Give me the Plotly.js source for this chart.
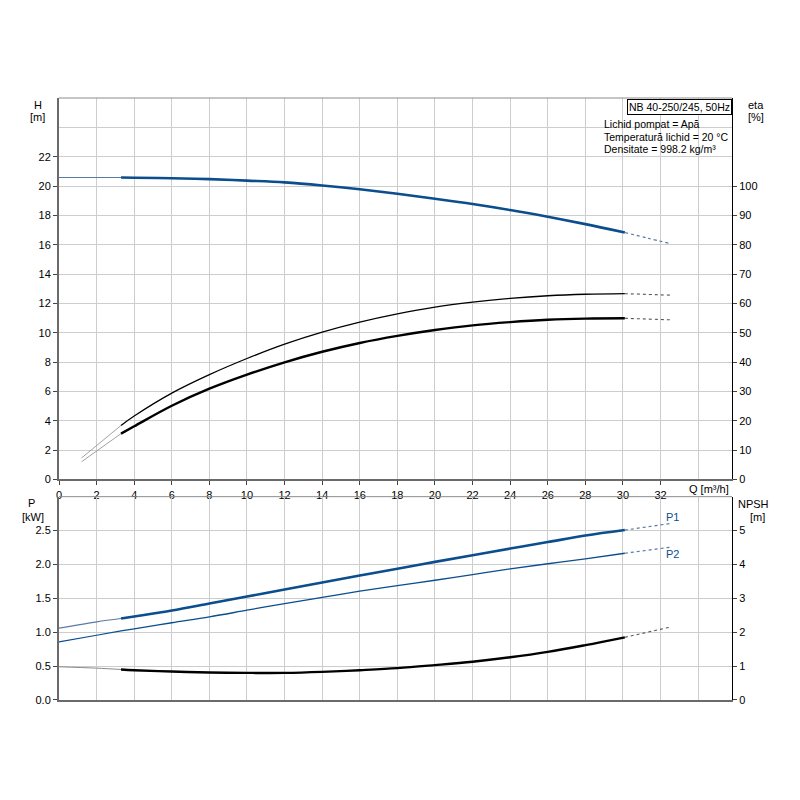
<!DOCTYPE html>
<html>
<head>
<meta charset="utf-8">
<script src="https://cdn.plot.ly/plotly-3.0.1.min.js"></script>
<style>
  html, body { margin: 0; padding: 0; background: #fff; }
  #chart { width: 800px; height: 800px; }
</style>
</head>
<body>
<div id="chart"></div>
<script>
// flow points of the solid (operating) part of every curve
const qMain = [3.3, 4, 6, 8, 10, 12, 14, 16, 18, 20, 22, 24, 26, 28, 30.1];

// head H [m]
const qStartH = [0, 3.3];
const hStart = [20.58, 20.58];
const hMain = [20.58, 20.56, 20.53, 20.47, 20.37, 20.25, 20.04, 19.78, 19.47, 19.13, 18.77, 18.36, 17.9, 17.4, 16.83];
const qEndH = [30.1, 31.3, 32.5];
const hEnd = [16.83, 16.45, 16.08];

// efficiency eta [%]
const qStartEta = [1.2, 3.3];
const eta1Start = [7.3, 18.4];
const eta1Main = [18.4, 21.6, 29.4, 35.7, 41.2, 46.1, 50.2, 53.6, 56.4, 58.7, 60.4, 61.7, 62.6, 63.1, 63.3];
const eta2Start = [6.0, 15.6];
const eta2Main = [15.6, 18.1, 25.1, 30.9, 35.7, 39.9, 43.5, 46.5, 48.9, 50.9, 52.5, 53.6, 54.4, 54.8, 54.9];
const qEnd = [30.1, 32.5];
const eta1End = [63.3, 62.8];
const eta2End = [54.9, 54.4];

// power P1, P2 [kW]
const qStartP = [0, 2, 3.3];
const p1Start = [1.059, 1.153, 1.202];
const p1Main = [1.202, 1.232, 1.32, 1.423, 1.527, 1.63, 1.733, 1.836, 1.937, 2.038, 2.136, 2.234, 2.33, 2.426, 2.507];
const p1End = [2.507, 2.603];
const p2Start = [0.858, 0.955, 1.02];
const p2Main = [1.02, 1.05, 1.14, 1.227, 1.325, 1.423, 1.515, 1.605, 1.688, 1.767, 1.851, 1.935, 2.01, 2.083, 2.165];
const p2End = [2.165, 2.254];

// NPSH [m]
const npshStart = [0.98, 0.94, 0.90];
const npshMain = [0.90, 0.88, 0.84, 0.81, 0.80, 0.80, 0.83, 0.88, 0.94, 1.03, 1.13, 1.26, 1.42, 1.62, 1.85];
const npshEnd = [1.85, 2.15];

// tick labels
const qTicks = [0, 2, 4, 6, 8, 10, 12, 14, 16, 18, 20, 22, 24, 26, 28, 30, 32];
const hTicks = [0, 2, 4, 6, 8, 10, 12, 14, 16, 18, 20, 22];
const etaTicks = [0, 10, 20, 30, 40, 50, 60, 70, 80, 90, 100];
const pTicks = [0, 0.5, 1, 1.5, 2, 2.5];
const npshTicks = [0, 1, 2, 3, 4, 5];

const BLUE = '#0b4d8d';
const BLUE_LIGHT = '#5b7aa3';
const GREY = '#8a8a8a';
const GRID = '#cdcdcd';
const FONT = 'Liberation Sans, Arial, sans-serif';

function seg(x, y, xa, ya, color, width, dash) {
  return {
    x: x, y: y, xaxis: xa, yaxis: ya, type: 'scatter', mode: 'lines',
    line: { color: color, width: width, dash: dash || 'solid', shape: 'spline', smoothing: 1 },
    hoverinfo: 'skip', showlegend: false
  };
}

const traces = [
  // H
  seg(qStartH, hStart, 'x', 'y', BLUE_LIGHT, 1),
  seg(qMain, hMain, 'x', 'y', BLUE, 2.6),
  seg(qEndH, hEnd, 'x', 'y', BLUE_LIGHT, 1.2, 'dot'),
  // eta
  seg(qStartEta, eta1Start, 'x', 'y2', GREY, 0.8),
  seg(qMain, eta1Main, 'x', 'y2', '#000', 1.3),
  seg(qEnd, eta1End, 'x', 'y2', '#555', 1.1, 'dot'),
  seg(qStartEta, eta2Start, 'x', 'y2', GREY, 0.8),
  seg(qMain, eta2Main, 'x', 'y2', '#000', 2.4),
  seg(qEnd, eta2End, 'x', 'y2', '#555', 1.1, 'dot'),
  // P1 / P2
  seg(qStartP, p1Start, 'x2', 'y3', BLUE_LIGHT, 1.2),
  seg(qMain, p1Main, 'x2', 'y3', BLUE, 2.6),
  seg(qEnd, p1End, 'x2', 'y3', BLUE_LIGHT, 1.2, 'dot'),
  seg(qStartP, p2Start, 'x2', 'y3', BLUE, 1.2),
  seg(qMain, p2Main, 'x2', 'y3', BLUE, 1.3),
  seg(qEnd, p2End, 'x2', 'y3', BLUE_LIGHT, 1.2, 'dot'),
  // NPSH
  seg(qStartP, npshStart, 'x2', 'y4', GREY, 1),
  seg(qMain, npshMain, 'x2', 'y4', '#000', 2.4),
  seg(qEnd, npshEnd, 'x2', 'y4', '#555', 1.1, 'dot')
];

// plot area in pixels: x 59..731.7, y 98..700.5
const L = 59, R = 731.7, T = 98, B = 700.5;
function px(x) { return (x - L) / (R - L); }
function py(y) { return (B - y) / (B - T); }
const topDom = [py(479.7), 1];
const botDom = [0, py(497)];

const tickFont = { family: FONT, size: 11, color: '#000' };

function label(text, x, y, xanchor, color, size) {
  return {
    text: text, x: px(x), y: py(y), xref: 'paper', yref: 'paper',
    xanchor: xanchor || 'center', yanchor: 'middle', showarrow: false,
    font: { family: FONT, size: size || 11, color: color || '#000' }
  };
}

const layout = {
  width: 800, height: 800,
  margin: { l: L, r: 800 - R, t: T, b: 800 - B },
  paper_bgcolor: '#fff', plot_bgcolor: '#fff',
  showlegend: false,
  xaxis: {
    anchor: 'y', range: [0, 35.8], tickvals: qTicks,
    showgrid: true, gridcolor: GRID, gridwidth: 1,
    minor: { tickvals: [34], showgrid: true, gridcolor: GRID, ticks: '' },
    showline: true, linecolor: '#6a6a6a', linewidth: 2,
    ticks: 'outside', ticklen: 4, tickcolor: '#444',
    tickfont: tickFont, zeroline: false
  },
  xaxis2: {
    anchor: 'y3', matches: 'x', range: [0, 35.8], tickvals: qTicks,
    showticklabels: false, ticks: '',
    showgrid: true, gridcolor: GRID, gridwidth: 1,
    minor: { tickvals: [34], showgrid: true, gridcolor: GRID, ticks: '' },
    showline: true, linecolor: '#6a6a6a', linewidth: 2, zeroline: false
  },
  yaxis: {
    domain: topDom, anchor: 'x', range: [0, 26], tickvals: hTicks,
    showgrid: true, gridcolor: GRID, gridwidth: 1,
    minor: { tickvals: [24], showgrid: true, gridcolor: GRID, ticks: '' },
    showline: true, linecolor: '#6a6a6a', linewidth: 2,
    ticks: 'outside', ticklen: 4, tickcolor: '#444',
    tickfont: tickFont, zeroline: false
  },
  yaxis2: {
    overlaying: 'y', anchor: 'x', side: 'right', range: [0, 130], tickvals: etaTicks,
    showgrid: false, showline: true, linecolor: '#000', linewidth: 1,
    ticks: 'outside', ticklen: 4, tickcolor: '#444',
    tickfont: tickFont, zeroline: false
  },
  yaxis3: {
    domain: botDom, anchor: 'x2', range: [0, 3], tickvals: pTicks,
    ticktext: pTicks.map(v => v.toFixed(1)),
    showgrid: true, gridcolor: GRID, gridwidth: 1,
    showline: true, linecolor: '#6a6a6a', linewidth: 2,
    ticks: 'outside', ticklen: 4, tickcolor: '#444',
    tickfont: tickFont, zeroline: false
  },
  yaxis4: {
    overlaying: 'y3', anchor: 'x2', side: 'right', range: [0, 6], tickvals: npshTicks,
    showgrid: false, showline: true, linecolor: '#000', linewidth: 1,
    ticks: 'outside', ticklen: 4, tickcolor: '#444',
    tickfont: tickFont, zeroline: false
  },
  shapes: [
    { type: 'line', xref: 'paper', yref: 'paper', x0: 0, x1: 1, y0: 1, y1: 1,
      line: { color: '#8c8c8c', width: 1 } },
    { type: 'line', xref: 'paper', yref: 'paper', x0: 0, x1: 1, y0: botDom[1], y1: botDom[1],
      line: { color: '#8c8c8c', width: 1 } }
  ],
  annotations: [
    label('H', 37.7, 105),
    label('[m]', 37.7, 117),
    label('eta', 755.7, 105),
    label('[%]', 755.7, 117),
    label('P', 31.7, 503.5),
    label('[kW]', 32.7, 517),
    label('NPSH', 752.7, 504.5),
    label('[m]', 756.7, 517),
    label('Q [m³/h]', 708.5, 489.5),
    label('Lichid pompat = Apă', 601.5, 124.5, 'left', '#000', 10.5),
    label('Temperatură lichid = 20 °C', 601.5, 136.7, 'left', '#000', 10.5),
    label('Densitate = 998.2 kg/m³', 601.5, 148.7, 'left', '#000', 10.5),
    label('P1', 663.5, 517, 'left', BLUE),
    label('P2', 663.5, 554, 'left', BLUE),
    {
      text: 'NB 40-250/245, 50Hz', x: 1, y: py(99.5), xref: 'paper', yref: 'paper',
      xanchor: 'right', yanchor: 'top', showarrow: false,
      bordercolor: '#000', borderwidth: 1, borderpad: 1, bgcolor: '#fff',
      font: { family: FONT, size: 10.5, color: '#000' }
    }
  ]
};

Plotly.newPlot('chart', traces, layout, { staticPlot: true, displayModeBar: false });
</script>
</body>
</html>
